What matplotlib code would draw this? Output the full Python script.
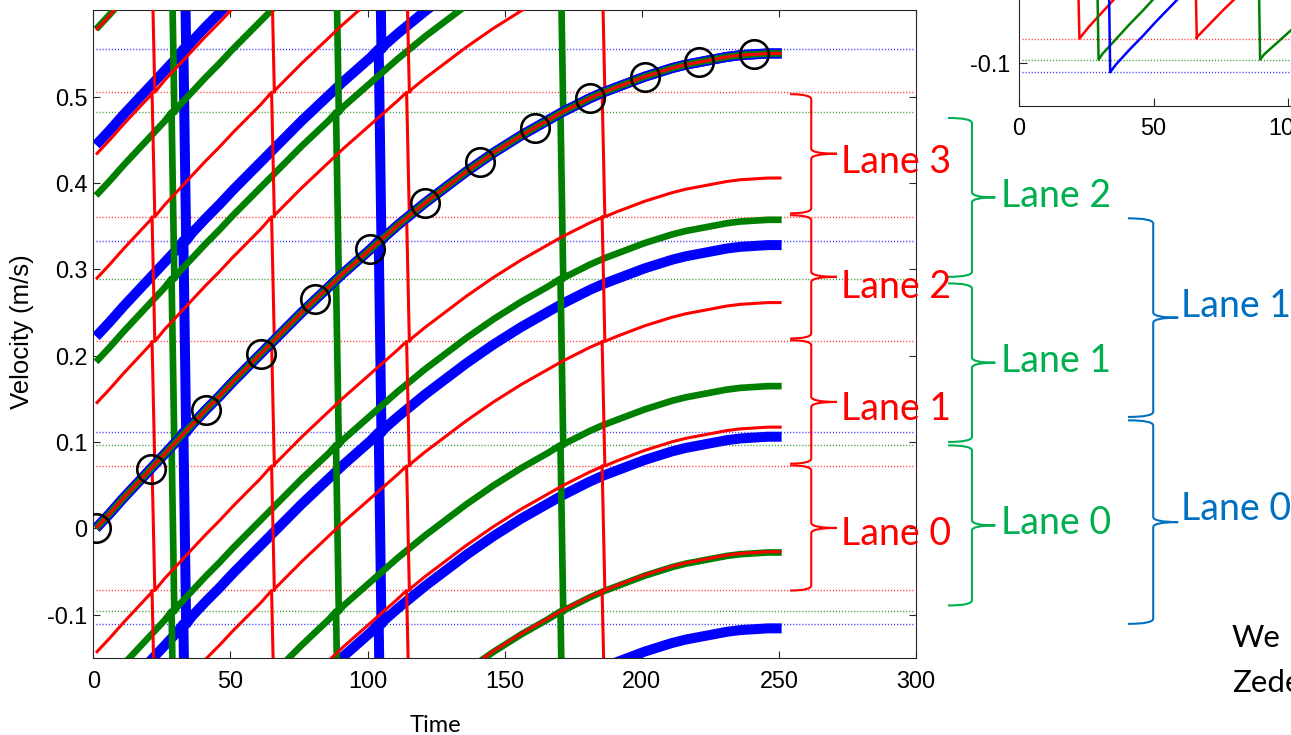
import numpy as np
import matplotlib.pyplot as plt
from matplotlib.path import Path
from matplotlib.patches import PathPatch

plt.rcParams['font.family'] = ['Liberation Sans', 'DejaVu Sans']

# velocity profile (time 1..251, every 5 steps)
time = np.arange(1, 252, 5)
velocity = [0.000, 0.017, 0.035, 0.052, 0.069, 0.086, 0.103, 0.120, 0.137, 0.153,
            0.170, 0.186, 0.202, 0.218, 0.234, 0.250, 0.265, 0.280, 0.295, 0.309,
            0.323, 0.337, 0.351, 0.364, 0.377, 0.389, 0.401, 0.413, 0.424, 0.435,
            0.445, 0.455, 0.464, 0.473, 0.482, 0.490, 0.498, 0.505, 0.511, 0.517,
            0.523, 0.528, 0.533, 0.537, 0.540, 0.543, 0.546, 0.548, 0.549, 0.550, 0.550]

# lane widths of the three wrappings
blue_width = 0.222
green_width = 0.1927
red_width = 0.1443

xticks = [0, 50, 100, 150, 200, 250, 300]
yticks = [-0.1, 0, 0.1, 0.2, 0.3, 0.4, 0.5]
ytick_labels = ['-0.1', '0', '0.1', '0.2', '0.3', '0.4', '0.5']

# lane annotations: (label, top, bottom, text baseline) in velocity units
red_lanes = [('Lane 3', 0.5028, 0.3648, 0.4112), ('Lane 2', 0.3626, 0.2198, 0.2662),
             ('Lane 1', 0.2178, 0.0748, 0.1250), ('Lane 0', 0.0728, -0.0722, -0.0196)]
green_lanes = [('Lane 2', 0.4753, 0.2912, 0.3724), ('Lane 1', 0.2836, 0.0999, 0.1807),
               ('Lane 0', 0.0960, -0.0895, -0.0064)]
blue_lanes = [('Lane 1', 0.3590, 0.1289, 0.2448), ('Lane 0', 0.1250, -0.1108, 0.0090)]

BLUE, GREEN, RED = '#0000ff', '#008000', '#ff0000'
W, H = 1291, 735
DOTS = (0, (0.8, 1.4))


def wrapped(t, v, w, k):
    # copy k of the velocity wrapped into lanes of width w
    t = np.asarray(t, float)
    v = np.asarray(v, float)
    n = np.round(v / w)
    xs, ys = [t[0]], [v[0] - n[0] * w + k * w]
    for i in range(1, len(t)):
        if n[i] != n[i - 1]:
            b = (n[i - 1] + 0.5) * w
            tc = t[i - 1] + (b - v[i - 1]) / (v[i] - v[i - 1]) * (t[i] - t[i - 1])
            xs += [tc - 0.5, tc + 0.5]
            ys += [(k + 0.5) * w, (k - 0.5) * w]
        xs.append(t[i])
        ys.append(v[i] - n[i] * w + k * w)
    return xs, ys


def brace(ax, x_tip, x_bar, x_mid, y_top, y_bot, color):
    ym = (y_top + y_bot) / 2
    r = 0.006
    C, L, M = Path.CURVE3, Path.LINETO, Path.MOVETO
    verts = [(x_tip, y_top), (x_bar, y_top), (x_bar, y_top - r),
             (x_bar, ym + r), (x_bar, ym), (x_mid, ym),
             (x_mid, ym), (x_bar, ym), (x_bar, ym - r),
             (x_bar, y_bot + r), (x_bar, y_bot), (x_tip, y_bot)]
    codes = [M, C, C, L, C, C, M, C, C, L, C, C]
    ax.add_patch(PathPatch(Path(verts, codes), fill=False, edgecolor=color,
                           lw=1.5, clip_on=False))


fig = plt.figure(figsize=(W / 100, H / 100), dpi=100)
ax = fig.add_axes([93.3 / W, 1 - 657.7 / H, (916 - 93.3) / W, (657.7 - 10.3) / H])

families = [(blue_width, BLUE, 7.2), (green_width, GREEN, 4.8), (red_width, RED, 2.2)]
for w, c, lw in families:
    for k in range(-4, 6):
        ax.plot([1, 299], [(k + 0.5) * w] * 2, color=c, lw=1.0, alpha=0.8,
                ls=DOTS, zorder=1)
for z, (w, c, lw) in enumerate(families):
    for k in range(-5, 6):
        xs, ys = wrapped(time, velocity, w, k)
        ax.plot(xs, ys, color=c, lw=lw, solid_capstyle='butt', zorder=2 + z)
for z, (w, c, lw) in enumerate(families):
    ax.plot(time, velocity, color=c, lw=lw, solid_capstyle='butt', zorder=5 + z)
ax.plot(time[::4], velocity[::4], 'o', mfc='none', mec='black', ms=20.5, mew=1.9,
        zorder=9)

ax.set_xlim(0, 300)
ax.set_ylim(-0.15, 0.6)
ax.set_xticks(xticks)
ax.set_yticks(yticks)
ax.set_yticklabels(ytick_labels)
ax.tick_params(direction='in', length=5, width=0.8, top=True, right=True,
               labelsize=16.8, colors='#262626', labelcolor='black')
ax.tick_params(axis='x', pad=9)
ax.tick_params(axis='y', pad=4.3)
for s in ax.spines.values():
    s.set_linewidth(0.8)
    s.set_color('#262626')

fig.text(22 / W, 1 - 332 / H, 'Velocity (m/s)', rotation=90, ha='center',
         va='center', fontsize=18.5)

lane_font = dict(family=['Lato', 'DejaVu Sans'], fontsize=27, va='baseline', ha='left')
for label, top, bot, base in red_lanes:
    brace(ax, 254.1, 261.8, 271.2, top, bot, '#ff0000')
    ax.text(272.8, base, label, color='#ff0000', clip_on=False, **lane_font)
for label, top, bot, base in green_lanes:
    brace(ax, 311.7, 320.4, 328.9, top, bot, '#00b050')
    ax.text(331.0, base, label, color='#00b050', clip_on=False, **lane_font)
for label, top, bot, base in blue_lanes:
    brace(ax, 377.3, 386.5, 395.6, top, bot, '#0070c0')
    ax.text(396.7, base, label, color='#0070c0', clip_on=False, **lane_font)

fig.text(409.3 / W, 1 - 731.7 / H, 'Time', family=['Lato', 'DejaVu Sans'],
         fontsize=17, va='baseline')
fig.text(1231.7 / W, 1 - 646.7 / H, 'We', family=['Lato', 'DejaVu Sans'],
         fontsize=22.5, va='baseline')
fig.text(1231.7 / W, 1 - 691.7 / H, 'Zede', family=['Lato', 'DejaVu Sans'],
         fontsize=22.5, va='baseline')

# cropped copy of the wrapped plot, top right
ax2 = fig.add_axes([1019 / W, 1 - 106 / H, 808 / W, 649 / H])
for w, c, lw in families:
    ax2.plot([1, 299], [-0.5 * w] * 2, color=c, lw=1.0, alpha=0.8,
             ls=DOTS, zorder=1)
for z, (w, c) in enumerate([(red_width, RED), (green_width, GREEN),
                            (blue_width, BLUE)]):
    xs, ys = wrapped(time, velocity, w, 0)
    ax2.plot(xs, ys, color=c, lw=1.8, zorder=2 + z)
ax2.set_xlim(0, 300)
ax2.set_ylim(-0.15, 0.6)
ax2.set_xticks(xticks)
ax2.set_yticks(yticks)
ax2.set_yticklabels(ytick_labels)
ax2.tick_params(direction='in', length=6, width=0.8, labelsize=16.8,
                colors='#262626', labelcolor='black')
ax2.tick_params(axis='x', pad=7.7)
ax2.tick_params(axis='y', pad=6.5)
for s in ax2.spines.values():
    s.set_linewidth(0.8)
    s.set_color('#262626')

fig.savefig('out.png', dpi=100)
